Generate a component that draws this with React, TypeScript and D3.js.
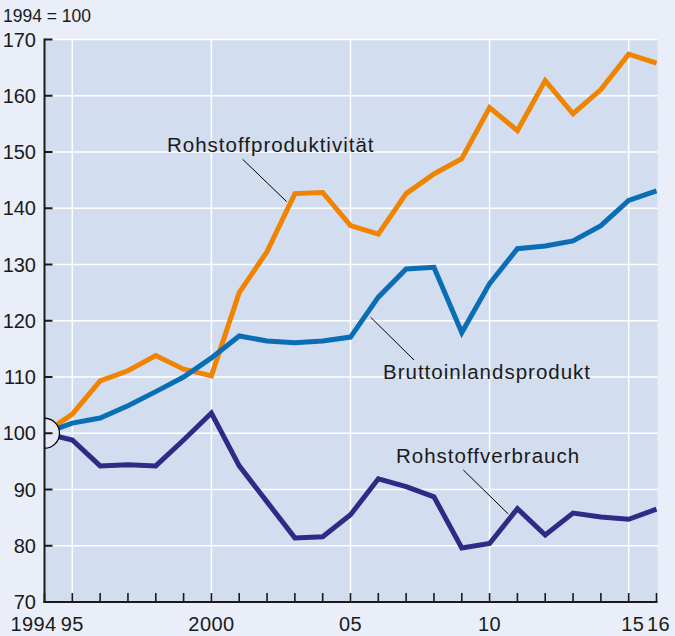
import React from "react";
import * as d3 from "d3";

const years = d3.range(1994, 2017);
const productivity = [100, 103.4, 109.3, 111.1, 113.8, 111.4, 110.2, 125.0, 132.3, 142.6, 142.8, 136.9, 135.4, 142.6, 146.1, 148.8, 157.9, 153.8, 162.7, 156.8, 161.1, 167.4, 165.8];
const gdp = [100, 101.8, 102.7, 104.9, 107.4, 110.0, 113.4, 117.3, 116.4, 116.1, 116.4, 117.1, 124.2, 129.2, 129.5, 117.9, 126.6, 132.8, 133.3, 134.2, 136.9, 141.4, 143.1];
const consumption = [100, 98.8, 94.2, 94.4, 94.2, 98.8, 103.6, 94.2, 87.8, 81.4, 81.6, 85.5, 91.9, 90.5, 88.7, 79.6, 80.4, 86.6, 81.9, 85.8, 85.1, 84.7, 86.5];
const yTicks = [70, 80, 90, 100, 110, 120, 130, 140, 150, 160, 170];
const xLabels: { year: number; text: string; dx: number }[] = [
  { year: 1994, text: "1994", dx: -11 },
  { year: 1995, text: "95", dx: 0 },
  { year: 2000, text: "2000", dx: 0 },
  { year: 2005, text: "05", dx: 0 },
  { year: 2010, text: "10", dx: 0 },
  { year: 2015, text: "15", dx: 4 },
  { year: 2016, text: "16", dx: 2 },
];
const xGrid = [1995, 2000, 2005, 2010, 2015];
const series = [
  { name: "Rohstoffproduktivität", values: productivity, color: "#f08300" },
  { name: "Bruttoinlandsprodukt", values: gdp, color: "#0a6eb4" },
  { name: "Rohstoffverbrauch", values: consumption, color: "#2f2a85" },
];

const W = 675, H = 636;
const left = 44.5, right = 656.5, top = 39.5, bottom = 602;
const FONT = "'Liberation Sans', Arial, Helvetica, sans-serif";

export default function App() {
  const x = d3.scaleLinear().domain([1994, 2016]).range([left, right]);
  const y = d3.scaleLinear().domain([70, 170]).range([bottom, top]);
  const line = d3.line<number>().x((_, i) => x(years[i])).y((d) => y(d));

  return (
    <svg width={W} height={H} style={{ position: "absolute", left: 0, top: 0, display: "block" }} fontFamily={FONT}>
      <defs>
        <clipPath id="plotclip">
          <rect x={left} y={top} width={right - left + 1} height={bottom - top} />
        </clipPath>
      </defs>
      <rect x={0} y={0} width={W} height={H} fill="#e9eef8" />
      <rect x={left} y={top} width={right - left + 1} height={bottom - top} fill="#d2ddf0" />
      {yTicks.slice(1).map((t) => (
        <line key={"gy" + t} x1={left} x2={right + 1} y1={y(t)} y2={y(t)} stroke="#ffffff" strokeWidth={1.5} />
      ))}
      {xGrid.map((t) => (
        <line key={"gx" + t} x1={x(t)} x2={x(t)} y1={top} y2={bottom} stroke="#ffffff" strokeWidth={1.5} />
      ))}
      {/* leader lines */}
      <line x1={242.7} y1={159.3} x2={286.7} y2={201.7} stroke="#000" strokeWidth={1} />
      <line x1={370.7} y1={317.3} x2={414} y2={360} stroke="#000" strokeWidth={1} />
      <line x1={463.3} y1={470} x2={508.3} y2={514} stroke="#000" strokeWidth={1} />
      <g clipPath="url(#plotclip)">
        {series.map((s) => (
          <path key={s.name} d={line(s.values) || ""} fill="none" stroke={s.color} strokeWidth={5} strokeLinejoin="miter" strokeMiterlimit={3} />
        ))}
        <circle cx={x(1994)} cy={y(100)} r={15} fill="#e4e9f5" stroke="#000" strokeWidth={1.3} />
      </g>
      {/* axes */}
      <line x1={left} x2={left} y1={top - 1} y2={bottom + 1} stroke="#1a1a1a" strokeWidth={2} />
      <line x1={left - 1} x2={right + 1} y1={bottom} y2={bottom} stroke="#1a1a1a" strokeWidth={2} />
      {yTicks.map((t) => (
        <g key={"yt" + t}>
          <line x1={left} x2={left + 8} y1={y(t)} y2={y(t)} stroke="#1a1a1a" strokeWidth={2} />
          <text x={36} y={y(t)} dy="0.36em" textAnchor="end" fontSize={20} fill="#1a1a1a">{t}</text>
        </g>
      ))}
      {years.map((yr) => (
        <line key={"xt" + yr} x1={x(yr)} x2={x(yr)} y1={bottom} y2={bottom - 9} stroke="#1a1a1a" strokeWidth={1.6} />
      ))}
      {xLabels.map((l) => (
        <text key={"xl" + l.year} x={x(l.year) + l.dx} y={631} textAnchor="middle" fontSize={20} letterSpacing={0.4} fill="#1a1a1a">{l.text}</text>
      ))}
      <text x={3} y={22} fontSize={17.5} fill="#1a1a1a">1994 = 100</text>
      <text x={167} y={152} fontSize={20.5} letterSpacing={1} fill="#1a1a1a">{series[0].name}</text>
      <text x={383} y={379} fontSize={20.5} letterSpacing={1} fill="#1a1a1a">{series[1].name}</text>
      <text x={396} y={463} fontSize={20.5} letterSpacing={1} fill="#1a1a1a">{series[2].name}</text>
    </svg>
  );
}
